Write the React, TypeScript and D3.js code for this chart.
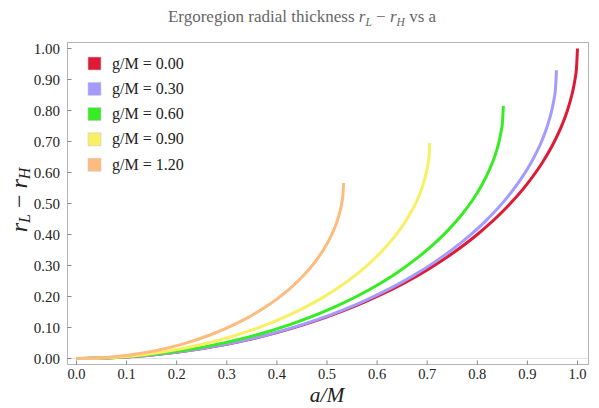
import React from "react";
import * as d3 from "d3";

// spin parameter a/M and thickness r_L - r_H, one pair of arrays per g/M
const aG000 = [0, 0.1, 0.2, 0.3, 0.4, 0.5, 0.6, 0.7, 0.75, 0.8, 0.85, 0.9, 0.93, 0.95, 0.97, 0.98, 0.99, 0.995, 0.998, 1];
const vG000 = [0, 0.005, 0.0202, 0.0461, 0.0835, 0.134, 0.2, 0.2859, 0.3386, 0.4, 0.4732, 0.5641, 0.6324, 0.6878, 0.7569, 0.801, 0.8589, 0.9001, 0.9368, 1];

const aG030 = [0, 0.0958, 0.1916, 0.2874, 0.3832, 0.479, 0.5748, 0.6706, 0.7185, 0.7664, 0.8143, 0.8622, 0.8909, 0.9101, 0.9293, 0.9388, 0.9484, 0.9532, 0.9561, 0.958];
const vG030 = [0, 0.0047, 0.0188, 0.0428, 0.0776, 0.1246, 0.186, 0.2658, 0.3149, 0.372, 0.4401, 0.5246, 0.5882, 0.6396, 0.7039, 0.7449, 0.7988, 0.8371, 0.8712, 0.93];

const aG060 = [0, 0.0852, 0.1704, 0.2556, 0.3408, 0.426, 0.5112, 0.5964, 0.639, 0.6816, 0.7242, 0.7668, 0.7924, 0.8094, 0.8264, 0.835, 0.8435, 0.8477, 0.8503, 0.852];
const vG060 = [0, 0.0041, 0.0165, 0.0375, 0.068, 0.1092, 0.163, 0.233, 0.2759, 0.326, 0.3857, 0.4598, 0.5154, 0.5605, 0.6169, 0.6528, 0.7, 0.7336, 0.7635, 0.815];

const aG090 = [0, 0.0705, 0.141, 0.2115, 0.282, 0.3525, 0.423, 0.4935, 0.5288, 0.564, 0.5993, 0.6345, 0.6557, 0.6698, 0.6839, 0.6909, 0.698, 0.7015, 0.7036, 0.705];
const vG090 = [0, 0.0035, 0.014, 0.032, 0.058, 0.0931, 0.139, 0.1987, 0.2353, 0.278, 0.3289, 0.3921, 0.4395, 0.478, 0.526, 0.5567, 0.597, 0.6256, 0.6511, 0.695];

const aG120 = [0, 0.0533, 0.1066, 0.1599, 0.2132, 0.2665, 0.3198, 0.3731, 0.3998, 0.4264, 0.4531, 0.4797, 0.4957, 0.5064, 0.517, 0.5223, 0.5277, 0.5303, 0.5319, 0.533];
const vG120 = [0, 0.0028, 0.0114, 0.0261, 0.0473, 0.0758, 0.1132, 0.1618, 0.1916, 0.2264, 0.2678, 0.3193, 0.358, 0.3893, 0.4284, 0.4534, 0.4862, 0.5095, 0.5298, 0.566];

const legendLabels = ["g/M = 0.00", "g/M = 0.30", "g/M = 0.60", "g/M = 0.90", "g/M = 1.20"];
const colors = ["#de1a36", "#a39bff", "#36ec22", "#f8ef62", "#fdbb7e"];

const xTicks = [0, 0.1, 0.2, 0.3, 0.4, 0.5, 0.6, 0.7, 0.8, 0.9, 1.0];
const yTicks = [0, 0.1, 0.2, 0.3, 0.4, 0.5, 0.6, 0.7, 0.8, 0.9, 1.0];

const series = [
  { a: aG000, v: vG000 },
  { a: aG030, v: vG030 },
  { a: aG060, v: vG060 },
  { a: aG090, v: vG090 },
  { a: aG120, v: vG120 },
];

const W = 599;
const H = 408;
const frame = { left: 67.5, right: 588.5, top: 42.5, bottom: 364.5 };
const font = "'Liberation Serif', 'Times New Roman', serif";

export default function App() {
  const x = d3.scaleLinear().domain([0, 1]).range([76.5, 577.5]);
  const y = d3.scaleLinear().domain([0, 1]).range([358.5, 48.5]);

  const line = d3
    .line<[number, number]>()
    .x((d) => x(d[0]))
    .y((d) => y(d[1]))
    .curve(d3.curveMonotoneX);

  return (
    <svg width={W} height={H} style={{ position: "absolute", left: 0, top: 0, background: "#fff" }}>
      {/* title */}
      <text x={302} y={22} textAnchor="middle" fontFamily={font} fontSize={17} fill="#666">
        Ergoregion radial thickness <tspan fontStyle="italic">r</tspan>
        <tspan fontStyle="italic" fontSize={11.5} dy={4}>L</tspan>
        <tspan dy={-4}> − </tspan>
        <tspan fontStyle="italic">r</tspan>
        <tspan fontStyle="italic" fontSize={11.5} dy={4}>H</tspan>
        <tspan dy={-4}> vs a</tspan>
      </text>

      {/* zero axis line */}
      <line x1={frame.left} x2={frame.right} y1={y(0)} y2={y(0)} stroke="#e2e2e2" strokeWidth={1} />

      {/* curves */}
      {series.map((s, i) => (
        <path
          key={i}
          d={line(s.a.map((a, j) => [a, s.v[j]] as [number, number])) || ""}
          fill="none"
          stroke={colors[i]}
          strokeWidth={3}
        />
      ))}

      {/* frame */}
      <rect
        x={frame.left}
        y={frame.top}
        width={frame.right - frame.left}
        height={frame.bottom - frame.top}
        fill="none"
        stroke="#b4b4b4"
        strokeWidth={1}
      />

      {/* y ticks */}
      {yTicks.map((t) => (
        <g key={"y" + t}>
          <line x1={frame.left} x2={frame.left + 4} y1={y(t)} y2={y(t)} stroke="#888" />
          <text x={60} y={y(t) + 5} textAnchor="end" fontFamily={font} fontSize={15} fill="#222">
            {d3.format(".2f")(t)}
          </text>
        </g>
      ))}

      {/* x ticks */}
      {xTicks.map((t) => (
        <g key={"x" + t}>
          <line x1={x(t)} x2={x(t)} y1={frame.bottom} y2={frame.bottom - 4} stroke="#888" />
          <text x={x(t)} y={379} textAnchor="middle" fontFamily={font} fontSize={14.5} fill="#222">
            {d3.format(".1f")(t)}
          </text>
        </g>
      ))}

      {/* axis labels */}
      <text x={327} y={402} textAnchor="middle" fontFamily={font} fontSize={21.5} fontStyle="italic" fill="#222">
        a/M
      </text>
      <text
        transform={`translate(27, 200) rotate(-90)`}
        textAnchor="middle"
        fontFamily={font}
        fontSize={24}
        fill="#222"
      >
        <tspan fontStyle="italic">r</tspan>
        <tspan fontStyle="italic" fontSize={16} dy={3}>L</tspan>
        <tspan dy={-3}> − </tspan>
        <tspan fontStyle="italic">r</tspan>
        <tspan fontStyle="italic" fontSize={16} dy={3}>H</tspan>
      </text>

      {/* legend */}
      {legendLabels.map((lab, i) => (
        <g key={lab} transform={`translate(88, ${63.5 + i * 25.3})`}>
          <rect x={0} y={-6.5} width={13} height={13} fill={colors[i]} stroke="#ccc" strokeWidth={0.6} />
          <text x={24} y={5} fontFamily={font} fontSize={16} fill="#222">
            {lab}
          </text>
        </g>
      ))}
    </svg>
  );
}
